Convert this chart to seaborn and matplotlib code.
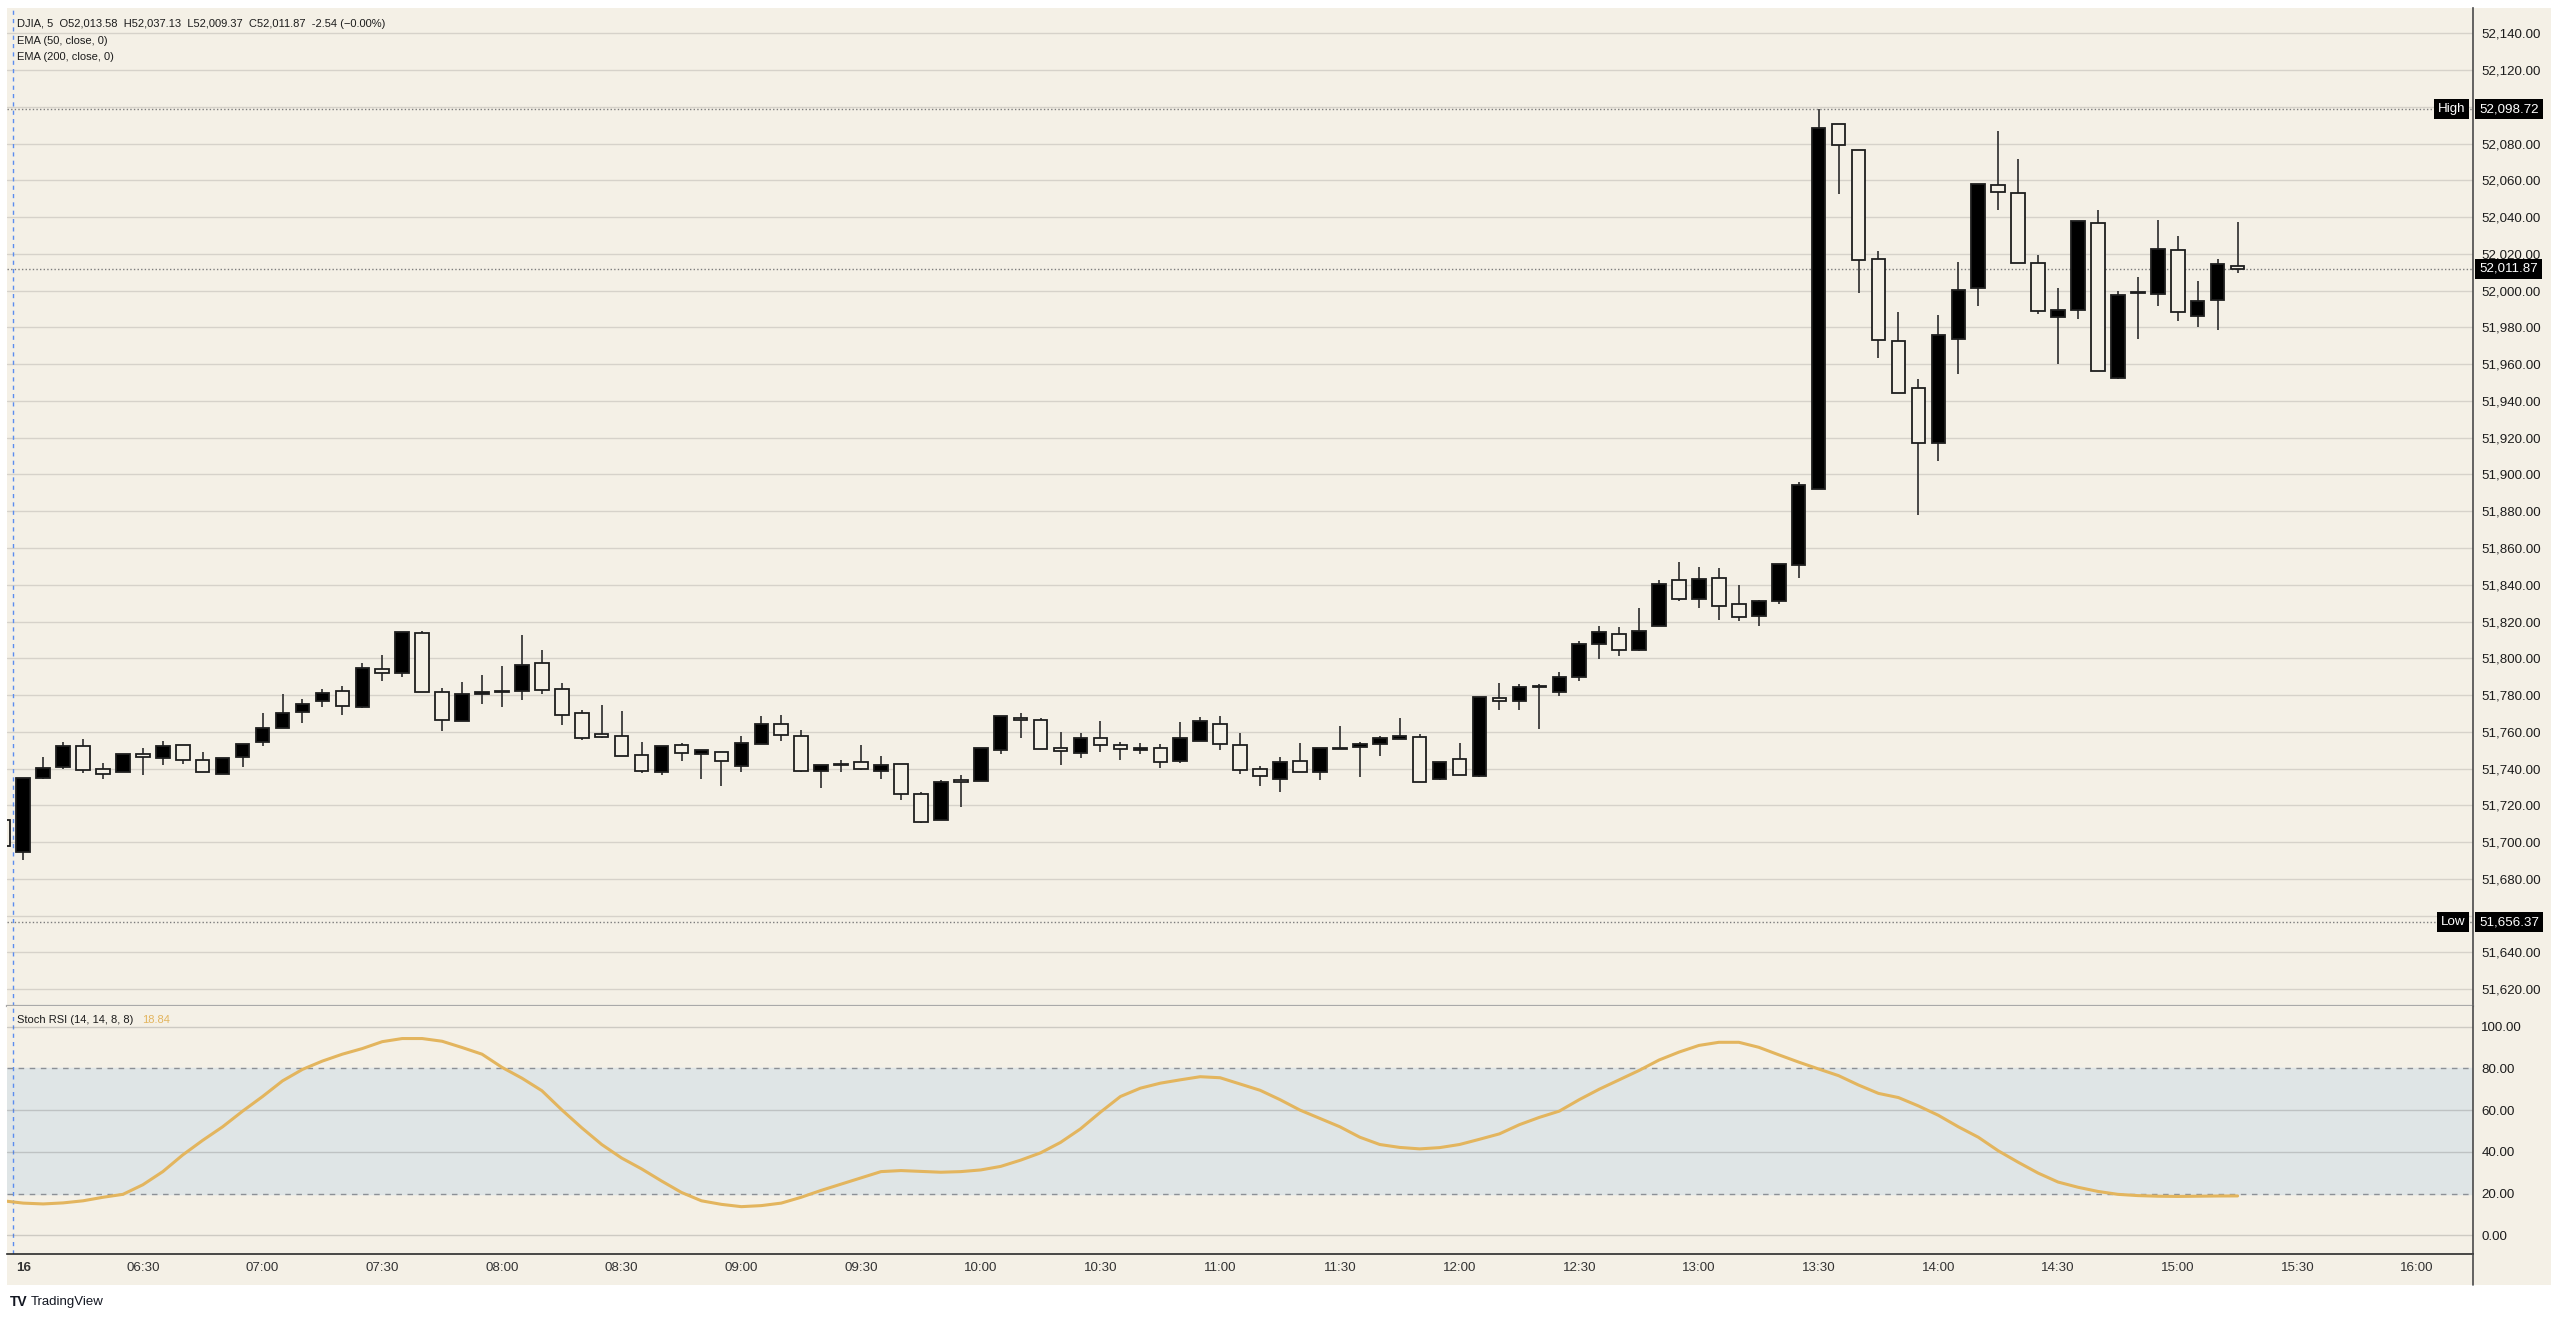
import numpy as np
import pandas as pd
import matplotlib
matplotlib.use("Agg")
import matplotlib.pyplot as plt
from matplotlib.patches import Rectangle
from matplotlib.lines import Line2D
from matplotlib.ticker import FuncFormatter
import seaborn as sns

# ---------------------------------------------------------------
# DATA  (DJIA 5-min candles, first entry = last bar of prior session)
# ---------------------------------------------------------------
opens = [51712.0,
    51694.4, 51734.7, 51740.9, 51752.1, 51739.6, 51738.3, 51747.9, 51745.7, 51752.6, 51744.7,
    51736.9, 51746.3, 51754.4, 51762.2, 51770.5, 51776.6, 51782.4, 51773.6, 51794.3, 51792.0,
    51813.5, 51781.7, 51765.8, 51780.8, 51782.1, 51782.2, 51797.4, 51783.1, 51770.1, 51758.8,
    51757.7, 51747.6, 51738.0, 51752.6, 51747.7, 51749.0, 51741.4, 51753.5, 51764.4, 51757.7,
    51738.9, 51742.7, 51743.6, 51738.9, 51742.3, 51726.1, 51712.0, 51734.0, 51733.3, 51750.3,
    51767.4, 51766.3, 51751.3, 51748.6, 51756.6, 51752.6, 51749.9, 51751.0, 51744.1, 51755.0,
    51764.4, 51753.0, 51739.6, 51734.2, 51744.3, 51738.0, 51751.0, 51751.9, 51753.5, 51755.9,
    51756.9, 51734.2, 51745.0, 51736.0, 51778.4, 51776.7, 51784.2, 51781.9, 51790.0, 51807.6,
    51813.0, 51804.3, 51817.3, 51842.8, 51832.3, 51843.9, 51829.4, 51823.1, 51831.4, 51850.9,
    51891.9, 52090.8, 52076.4, 52017.5, 51972.5, 51947.2, 51916.9, 51973.9, 52001.2, 52057.6,
    52053.1, 52014.8, 51985.9, 51989.5, 52037.0, 51952.4, 51999.1, 51998.2, 52022.2, 51986.4,
    51994.7, 52013.58]
highs = [51714.0,
    51735.1, 51746.3, 51754.2, 51756.2, 51742.9, 51747.9, 51751.2, 51754.8, 51752.6, 51749.0,
    51745.7, 51753.5, 51770.1, 51780.4, 51777.9, 51783.3, 51784.8, 51797.2, 51801.6, 51814.2,
    51814.6, 51783.9, 51787.1, 51790.7, 51796.0, 51812.6, 51804.3, 51786.8, 51771.8, 51774.8,
    51771.2, 51754.2, 51752.1, 51753.7, 51749.9, 51749.0, 51757.9, 51768.7, 51769.2, 51760.9,
    51741.8, 51744.5, 51752.8, 51746.8, 51742.3, 51727.0, 51733.8, 51736.5, 51751.0, 51768.7,
    51770.1, 51767.4, 51759.8, 51759.5, 51765.6, 51754.6, 51754.1, 51753.2, 51765.1, 51768.1,
    51768.7, 51759.5, 51741.4, 51746.3, 51753.7, 51751.0, 51762.9, 51754.2, 51757.9, 51767.6,
    51758.8, 51743.8, 51753.7, 51779.0, 51786.8, 51786.2, 51786.2, 51792.4, 51809.5, 51817.8,
    51816.8, 51827.6, 51842.6, 51852.4, 51849.6, 51849.3, 51839.9, 51831.9, 51851.3, 51895.7,
    52098.72, 52090.8, 52076.4, 52021.8, 51988.2, 51952.1, 51986.8, 52015.7, 52058.0, 52086.7,
    52071.7, 52019.3, 52001.6, 52038.1, 52043.9, 51999.6, 52007.7, 52038.3, 52029.6, 52005.2,
    52017.1, 52037.13]
lows = [51697.0,
    51690.0, 51734.2, 51740.0, 51737.4, 51734.2, 51738.3, 51736.4, 51742.0, 51742.3, 51738.0,
    51736.9, 51740.9, 51752.3, 51762.2, 51764.7, 51773.4, 51769.4, 51772.7, 51787.5, 51789.8,
    51781.9, 51760.4, 51765.8, 51775.0, 51773.4, 51777.5, 51780.3, 51763.6, 51755.5, 51756.6,
    51746.8, 51737.4, 51736.4, 51743.9, 51734.2, 51730.4, 51738.3, 51753.5, 51754.8, 51738.0,
    51729.5, 51738.3, 51739.2, 51734.2, 51723.0, 51710.3, 51712.0, 51719.2, 51733.3, 51748.1,
    51756.4, 51750.8, 51742.0, 51745.6, 51749.2, 51744.5, 51747.7, 51740.5, 51742.9, 51755.0,
    51749.9, 51737.3, 51730.6, 51727.5, 51738.0, 51733.6, 51750.4, 51735.6, 51746.6, 51755.9,
    51732.9, 51733.6, 51736.5, 51735.6, 51771.8, 51771.8, 51761.7, 51779.2, 51787.9, 51799.8,
    51801.4, 51803.9, 51817.3, 51831.0, 51827.1, 51820.9, 51820.4, 51817.3, 51829.6, 51843.7,
    51891.9, 52052.4, 51998.7, 51963.3, 51944.3, 51877.7, 51907.5, 51954.4, 51991.8, 52043.7,
    52015.3, 51987.3, 51960.2, 51984.6, 51956.1, 51951.7, 51973.9, 51991.5, 51983.7, 51980.1,
    51978.6, 52009.37]
closes = [51698.0,
    51735.1, 51740.1, 51752.1, 51739.1, 51736.9, 51747.9, 51746.3, 51752.1, 51744.7, 51738.0,
    51745.7, 51753.5, 51761.8, 51770.1, 51775.2, 51781.0, 51774.1, 51794.9, 51791.8, 51814.2,
    51781.9, 51766.3, 51780.3, 51781.9, 51781.5, 51796.5, 51783.0, 51769.1, 51756.6, 51757.1,
    51746.8, 51738.5, 51752.1, 51748.5, 51749.9, 51744.1, 51753.7, 51764.0, 51758.2, 51738.9,
    51741.8, 51742.0, 51740.0, 51741.8, 51726.2, 51711.1, 51732.9, 51732.7, 51751.0, 51768.7,
    51766.3, 51750.8, 51749.4, 51756.6, 51753.0, 51750.4, 51751.0, 51743.8, 51756.6, 51765.8,
    51753.5, 51739.1, 51736.0, 51743.8, 51738.0, 51751.0, 51750.4, 51753.5, 51756.8, 51757.7,
    51732.9, 51743.8, 51736.5, 51779.0, 51776.7, 51784.1, 51785.1, 51789.7, 51807.9, 51814.1,
    51804.3, 51815.0, 51840.3, 51832.5, 51843.0, 51828.3, 51822.7, 51831.0, 51851.3, 51894.3,
    52088.3, 52079.3, 52016.9, 51973.0, 51944.3, 51916.9, 51976.1, 52000.5, 52058.0, 52053.6,
    52015.3, 51989.1, 51989.7, 52038.1, 51956.1, 51997.8, 51998.7, 52022.7, 51988.2, 51994.4,
    52014.6, 52011.87]

stoch_rsi = [16.5,
    15.4, 15.0, 15.5, 16.5, 18.2, 19.6, 24.2, 30.5, 38.5, 45.5,
    52.0, 59.5, 66.5, 74.0, 79.5, 83.5, 86.8, 89.5, 92.8, 94.3,
    94.3, 93.0, 90.0, 86.8, 80.5, 75.3, 69.3, 60.1, 51.5, 43.5,
    37.0, 31.8, 26.0, 20.5, 16.5, 14.8, 13.7, 14.2, 15.4, 18.2,
    21.5, 24.5, 27.5, 30.5, 31.0, 30.6, 30.2, 30.5, 31.3, 33.0,
    36.0, 39.5, 44.5, 51.0, 59.0, 66.5, 70.5, 72.9, 74.5, 76.0,
    75.5, 72.5, 69.5, 65.0, 60.0, 56.0, 52.0, 47.0, 43.5, 42.1,
    41.4, 42.0, 43.5, 46.0, 48.6, 53.0, 56.5, 59.5, 65.0, 70.0,
    74.5, 79.0, 84.0, 87.8, 91.0, 92.5, 92.5, 90.1, 86.5, 83.0,
    79.7, 76.5, 72.0, 68.0, 66.0, 62.0, 57.5, 52.0, 47.0, 40.5,
    35.0, 29.8, 25.5, 23.0, 21.0, 19.6, 19.0, 18.7, 18.6, 18.7,
    18.8, 18.84]

time_labels = ["16", "06:30", "07:00", "07:30", "08:00", "08:30", "09:00", "09:30",
               "10:00", "10:30", "11:00", "11:30", "12:00", "12:30", "13:00", "13:30",
               "14:00", "14:30", "15:00", "15:30", "16:00"]

day_high = 52098.72
day_low = 51656.37
last_close = 52011.87

# ---------------------------------------------------------------
# STYLE
# ---------------------------------------------------------------
sns.set_style("white")
plt.rcParams["font.family"] = ["Liberation Sans", "DejaVu Sans"]

W, H = 2560, 1318
BG = "#f4f0e6"
GRID = "#d6d2ca"
TXT = "#1c1c1c"
GOLD = "#e3b55e"

df = pd.DataFrame({"open": opens, "high": highs, "low": lows,
                   "close": closes, "rsi": stoch_rsi})
df["pos"] = np.arange(len(df)) - 1          # bar 0 = 06:00 on the 16th
df["up"] = df["close"] >= df["open"]

fig = plt.figure(figsize=(W / 100, H / 100), dpi=100, facecolor="white")
fig.patches.append(Rectangle((7 / W, 1 - 1285 / H), (2551 - 7) / W, (1285 - 8) / H,
                             transform=fig.transFigure, facecolor=BG,
                             edgecolor="none", zorder=-10))

ax = fig.add_axes([7 / W, 1 - 1006 / H, (2473 - 7) / W, (1006 - 8) / H])
ax_rsi = fig.add_axes([7 / W, 1 - 1254 / H, (2473 - 7) / W, (1254 - 1006) / H], sharex=ax)
for a in (ax, ax_rsi):
    a.set_facecolor(BG)
    for s in ("left", "top"):
        a.spines[s].set_visible(False)
    a.spines["right"].set_color("#4a4a4a")
    a.spines["right"].set_linewidth(1.2)
ax.spines["bottom"].set_color("#a9a9a9")
ax.spines["bottom"].set_linewidth(1.6)
ax_rsi.spines["bottom"].set_color("#2a2a2a")
ax_rsi.spines["bottom"].set_linewidth(1.2)

# ---------------------------------------------------------------
# CANDLES
# ---------------------------------------------------------------
ax.vlines(df["pos"], df["low"], df["high"], color="#3a3a3a", lw=1.3, zorder=2)
body_lo = np.minimum(df["open"], df["close"])
body_h = np.maximum(np.abs(df["close"] - df["open"]), 0.4)
ax.bar(df["pos"], body_h, bottom=body_lo, width=0.68,
       color=np.where(df["up"], "black", BG), edgecolor="#1e1e1e",
       linewidth=1.3, zorder=3)

ax.set_xlim(-0.81, 122.8)
ax.set_ylim(51610.8, 52153.8)
ax.yaxis.tick_right()
ax.set_yticks(np.arange(51620, 52141, 20))
ax.yaxis.set_major_formatter(FuncFormatter(lambda v, p: f"{v:,.2f}"))
ax.tick_params(axis="y", length=0, pad=6, labelsize=9.6, labelcolor=TXT)
ax.tick_params(axis="x", length=0, labelbottom=False)
ax.grid(axis="y", color=GRID, lw=1)
ax.set_axisbelow(True)

for lvl in (day_high, day_low, last_close):
    ax.axhline(lvl, color="#7c7c7c", lw=1, ls=(0, (1, 1.6)), zorder=1)

# session break
for a in (ax, ax_rsi):
    a.axvline(-0.5, color="#5b8def", lw=1, ls=(0, (3, 3)), zorder=1)

# ---------------------------------------------------------------
# STOCH RSI
# ---------------------------------------------------------------
ax_rsi.axhspan(20, 80, color="#dfe5e6", zorder=0)
for lvl in (0, 40, 60, 100):
    ax_rsi.axhline(lvl, color=(0.45, 0.45, 0.45, 0.3), lw=1, zorder=1)
for lvl in (20, 80):
    ax_rsi.axhline(lvl, color="#8c9096", lw=1, ls=(0, (4, 4)), zorder=1)
sns.lineplot(data=df, x="pos", y="rsi", ax=ax_rsi, color=GOLD, lw=2.2, zorder=3)
ax_rsi.set_xlabel("")
ax_rsi.set_ylabel("")
ax_rsi.set_ylim(-9.0, 109.9)
ax_rsi.yaxis.tick_right()
ax_rsi.set_yticks(np.arange(0, 101, 20))
ax_rsi.yaxis.set_major_formatter(FuncFormatter(lambda v, p: f"{v:.2f}"))
ax_rsi.tick_params(axis="y", length=0, pad=6, labelsize=9.6, labelcolor=TXT)

ax_rsi.set_xticks(np.arange(0, 6 * len(time_labels), 6))
ax_rsi.set_xticklabels(time_labels)
ax_rsi.tick_params(axis="x", length=0, pad=6, labelsize=9.6, labelcolor="#333333")
ax_rsi.get_xticklabels()[0].set_fontweight("bold")
ax_rsi.set_xlim(-0.81, 122.8)

fig.add_artist(Line2D([2473 / W, 2473 / W], [1 - 1254 / H, 1 - 1285 / H],
                      transform=fig.transFigure, color="#4a4a4a", lw=1.2))

# ---------------------------------------------------------------
# TEXT / LABELS
# ---------------------------------------------------------------
def fy(py):
    return 1 - py / H

fig.text(17 / W, fy(24), "DJIA, 5  O52,013.58  H52,037.13  L52,009.37  C52,011.87  -2.54 (\u22120.00%)",
         fontsize=8, color=TXT, va="center")
fig.text(17 / W, fy(41), "EMA (50, close, 0)", fontsize=8, color=TXT, va="center")
fig.text(17 / W, fy(57), "EMA (200, close, 0)", fontsize=8, color=TXT, va="center")
fig.text(17 / W, fy(1020), "Stoch RSI (14, 14, 8, 8)", fontsize=8, color=TXT, va="center")
fig.text(142 / W, fy(1020), f"{stoch_rsi[-1]:.2f}", fontsize=8, color=GOLD, va="center")

box = dict(boxstyle="square,pad=0.3", fc="black", ec="none")
for lvl, tag in ((day_high, "High"), (day_low, "Low"), (last_close, None)):
    ypix = 290.6 + (52000 - lvl) * 1.838
    fig.text(2479 / W, fy(ypix), f"{lvl:,.2f}", fontsize=9.6, color="white",
             va="center", ha="left", bbox=box, zorder=5)
    if tag:
        fig.text(2465 / W, fy(ypix), tag, fontsize=9.6, color="white",
                 va="center", ha="right", bbox=box, zorder=5)

fig.text(10 / W, fy(1302), "TV", fontsize=10, fontweight="bold", color="#131722", va="center")
fig.text(31 / W, fy(1302), "TradingView", fontsize=9.5, color="#131722", va="center")

fig.savefig("out.png", dpi=100, facecolor="white")
